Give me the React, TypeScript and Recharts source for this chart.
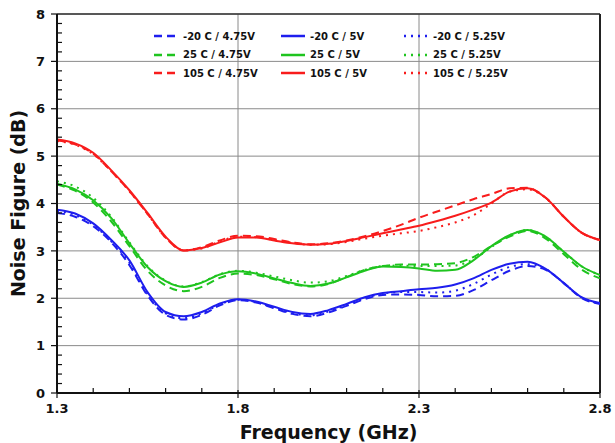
import {
  CartesianGrid,
  Label,
  Line,
  LineChart,
  ReferenceLine,
  XAxis,
  YAxis,
} from "recharts"

const FREQ = [
  1.3, 1.35, 1.4, 1.45, 1.5, 1.55, 1.6, 1.65, 1.7, 1.75, 1.8, 1.85, 1.9, 1.95, 2.0, 2.05,
  2.1, 2.15, 2.2, 2.25, 2.3, 2.35, 2.4, 2.45, 2.5, 2.55, 2.6, 2.65, 2.7, 2.75, 2.8,
]

// -20 C
const B475 = [
  3.8, 3.72, 3.52, 3.18, 2.7, 2.06, 1.65, 1.55, 1.65, 1.85, 1.96, 1.91, 1.79, 1.67, 1.62, 1.7,
  1.84, 1.98, 2.07, 2.08, 2.07, 2.04, 2.05, 2.17, 2.38, 2.58, 2.68, 2.6, 2.32, 2.0, 1.88,
]
const B5 = [
  3.87, 3.79, 3.58, 3.23, 2.8, 2.13, 1.71, 1.62, 1.71, 1.89, 1.98, 1.93, 1.82, 1.71, 1.67, 1.75,
  1.88, 2.02, 2.11, 2.15, 2.19, 2.22, 2.29, 2.42, 2.6, 2.73, 2.77, 2.62, 2.32, 2.02, 1.9,
]
const B525 = [
  3.84, 3.76, 3.55, 3.2, 2.75, 2.09, 1.68, 1.58, 1.68, 1.87, 1.97, 1.92, 1.8, 1.69, 1.64, 1.72,
  1.86, 2.0, 2.1, 2.13, 2.13, 2.12, 2.16, 2.3, 2.5, 2.66, 2.72, 2.62, 2.32, 2.01, 1.89,
]

// 25 C
const G475 = [
  4.4, 4.27, 4.02, 3.62, 3.1, 2.58, 2.27, 2.15, 2.24, 2.43, 2.52, 2.49, 2.4, 2.3, 2.25, 2.3,
  2.45, 2.6, 2.68, 2.71, 2.71, 2.72, 2.74, 2.87, 3.1, 3.3, 3.42, 3.26, 2.93, 2.6, 2.42,
]
const G5 = [
  4.42, 4.3, 4.07, 3.69, 3.16, 2.66, 2.36, 2.24, 2.33, 2.5, 2.57, 2.52, 2.42, 2.32, 2.26, 2.31,
  2.44, 2.58, 2.67, 2.66, 2.63, 2.58, 2.6, 2.8, 3.1, 3.33, 3.44, 3.3, 2.98, 2.67, 2.49,
]
const G525 = [
  4.47, 4.36, 4.12, 3.72, 3.18, 2.68, 2.37, 2.25, 2.34, 2.51, 2.58, 2.54, 2.46, 2.38, 2.33, 2.36,
  2.47, 2.6, 2.68, 2.69, 2.68, 2.68, 2.69, 2.82, 3.08, 3.33, 3.44, 3.3, 2.98, 2.67, 2.49,
]

// 105 C
const R475 = [
  5.33, 5.25, 5.05, 4.68, 4.26, 3.78, 3.28, 3.01, 3.08, 3.22, 3.32, 3.31, 3.25, 3.18, 3.14, 3.16,
  3.22, 3.31, 3.42, 3.55, 3.7, 3.83, 3.96, 4.09, 4.2, 4.32, 4.33, 4.12, 3.72, 3.38, 3.23,
]
const R5 = [
  5.35, 5.27, 5.07, 4.7, 4.28, 3.8, 3.3, 3.01, 3.06, 3.18, 3.28, 3.28, 3.22, 3.16, 3.13, 3.15,
  3.21, 3.29, 3.37, 3.45, 3.53, 3.63, 3.74, 3.87, 4.02, 4.25, 4.32, 4.12, 3.72, 3.38, 3.23,
]
const R525 = [
  5.32, 5.24, 5.04, 4.68, 4.26, 3.78, 3.28, 3.01, 3.05, 3.2, 3.3, 3.29, 3.23, 3.17, 3.13, 3.14,
  3.19, 3.26, 3.32, 3.37, 3.42, 3.5, 3.6, 3.75, 4.0, 4.25, 4.3, 4.12, 3.72, 3.38, 3.23,
]

const X_TICKS = [1.3, 1.8, 2.3, 2.8]
const X_MINOR = [1.3, 1.4, 1.5, 1.6, 1.7, 1.8, 1.9, 2.0, 2.1, 2.2, 2.3, 2.4, 2.5, 2.6, 2.7, 2.8]
const Y_TICKS = [0, 1, 2, 3, 4, 5, 6, 7, 8]
const Y_MINOR = [
  0, 0.2, 0.4, 0.6, 0.8, 1, 1.2, 1.4, 1.6, 1.8, 2, 2.2, 2.4, 2.6, 2.8, 3, 3.2, 3.4, 3.6, 3.8,
  4, 4.2, 4.4, 4.6, 4.8, 5, 5.2, 5.4, 5.6, 5.8, 6, 6.2, 6.4, 6.6, 6.8, 7, 7.2, 7.4, 7.6, 7.8, 8,
]

const BLUE = "#1e1eee"
const GREEN = "#1fc41f"
const RED = "#f81c1c"
const DASH = "8 5"
const DOT = "2 5"

// legend order: row by row, columns = 4.75V / 5V / 5.25V
const SERIES = [
  { key: "b475", name: "-20 C / 4.75V", values: B475, color: BLUE, dash: DASH },
  { key: "b5", name: "-20 C / 5V", values: B5, color: BLUE, dash: undefined },
  { key: "b525", name: "-20 C / 5.25V", values: B525, color: BLUE, dash: DOT },
  { key: "g475", name: "25 C / 4.75V", values: G475, color: GREEN, dash: DASH },
  { key: "g5", name: "25 C / 5V", values: G5, color: GREEN, dash: undefined },
  { key: "g525", name: "25 C / 5.25V", values: G525, color: GREEN, dash: DOT },
  { key: "r475", name: "105 C / 4.75V", values: R475, color: RED, dash: DASH },
  { key: "r5", name: "105 C / 5V", values: R5, color: RED, dash: undefined },
  { key: "r525", name: "105 C / 5.25V", values: R525, color: RED, dash: DOT },
]

const FONT = "'DejaVu Sans', Verdana, sans-serif"
const TICK_STYLE = { fontFamily: FONT, fontSize: 13, fontWeight: "bold", fill: "#111" }
const TITLE_STYLE = { fontFamily: FONT, fontSize: 19, fontWeight: "bold", fill: "#111" }

const chartData = FREQ.map((f, i) => {
  const row: Record<string, number> = { f }
  SERIES.forEach((s) => {
    row[s.key] = s.values[i]
  })
  return row
})

const isMajor = (list: number[], v: number) => list.some((t) => Math.abs(t - v) < 1e-6)

// tickSize/tickMargin are 0, so x,y here sit right on the axis line
function XTick(props: any) {
  const { x, y, payload } = props
  const major = isMajor(X_TICKS, payload.value)
  return (
    <g>
      <line
        x1={x}
        x2={x}
        y1={major ? y - 3 : y - 5}
        y2={major ? y + 5 : y}
        stroke="#111"
        strokeWidth={1.2}
      />
      {major && (
        <text x={x} y={y + 10} dy="0.75em" textAnchor="middle" style={TICK_STYLE}>
          {payload.value.toFixed(1)}
        </text>
      )}
    </g>
  )
}

function YTick(props: any) {
  const { x, y, payload } = props
  const major = isMajor(Y_TICKS, payload.value)
  return (
    <g>
      <line
        x1={major ? x - 6 : x}
        x2={major ? x : x + 5}
        y1={y}
        y2={y}
        stroke="#111"
        strokeWidth={1.2}
      />
      {major && (
        <text x={x - 12} y={y} dy="0.36em" textAnchor="end" style={TICK_STYLE}>
          {payload.value}
        </text>
      )}
    </g>
  )
}

function LegendBox() {
  return (
    <div
      style={{
        position: "absolute",
        top: 27,
        left: 153,
        display: "grid",
        gridTemplateColumns: "127px 123px 130px",
        gridAutoRows: "18.5px",
        fontFamily: FONT,
        fontSize: 10,
        fontWeight: "bold",
        color: "#111",
        pointerEvents: "none",
      }}
    >
      {SERIES.map((s) => (
        <div key={s.key} style={{ display: "flex", alignItems: "center" }}>
          <svg width={26} height={6} style={{ marginRight: 4 }}>
            <line
              x1={1}
              y1={3}
              x2={25}
              y2={3}
              stroke={s.color}
              strokeWidth={2.5}
              strokeDasharray={s.dash}
            />
          </svg>
          <span>{s.name}</span>
        </div>
      ))}
    </div>
  )
}

export default function App() {
  return (
    <div style={{ position: "relative", width: 615, height: 443, background: "#fff" }}>
      <style>{`body { margin: 0; }`}</style>
      <LineChart
        width={615}
        height={443}
        data={chartData}
        margin={{ top: 14, right: 15, left: 0, bottom: 0 }}
      >
        <CartesianGrid
          stroke="#8a8a8a"
          strokeWidth={1}
          horizontalValues={Y_TICKS}
          verticalValues={X_TICKS}
        />
        <XAxis
          dataKey="f"
          type="number"
          domain={[1.3, 2.8]}
          ticks={X_MINOR}
          interval={0}
          allowDataOverflow
          height={50}
          tickSize={0}
          tickMargin={0}
          tickLine={false}
          tick={<XTick />}
          axisLine={{ stroke: "#111", strokeWidth: 2 }}
        >
          <Label value="Frequency (GHz)" position="insideBottom" offset={4} style={TITLE_STYLE} />
        </XAxis>
        <YAxis
          type="number"
          domain={[0, 8]}
          ticks={Y_MINOR}
          interval={0}
          allowDataOverflow
          width={57}
          tickSize={0}
          tickMargin={0}
          tickLine={false}
          tick={<YTick />}
          axisLine={{ stroke: "#111", strokeWidth: 2 }}
        >
          <Label
            value="Noise Figure (dB)"
            angle={-90}
            position="insideLeft"
            offset={18}
            style={{ ...TITLE_STYLE, textAnchor: "middle" }}
          />
        </YAxis>
        <ReferenceLine y={8} stroke="#333" strokeWidth={1.5} />
        <ReferenceLine x={2.8} stroke="#222" strokeWidth={2} />
        {SERIES.map((s) => (
          <Line
            key={s.key}
            type="monotone"
            dataKey={s.key}
            name={s.name}
            stroke={s.color}
            strokeWidth={2}
            strokeDasharray={s.dash}
            dot={false}
            isAnimationActive={false}
          />
        ))}
      </LineChart>
      <LegendBox />
    </div>
  )
}
